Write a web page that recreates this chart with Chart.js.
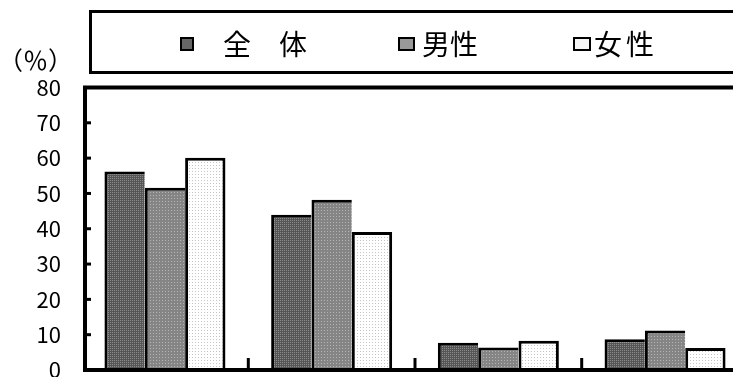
<!DOCTYPE html>
<html lang="ja">
<head>
<meta charset="utf-8">
<script src="https://cdn.jsdelivr.net/npm/chart.js@4/dist/chart.umd.min.js"></script>
<style>
  html, body { margin: 0; padding: 0; background: #fff; overflow: hidden; }
  #wrap { position: relative; width: 770px; height: 377px; }
  #barCanvas { position: absolute; left: 0; top: 0; }
  .txt { position: absolute; font-family: "Noto Sans CJK JP", sans-serif; color: #000; white-space: pre; }
  #unit { left: -2px; top: 47px; font-size: 25px; line-height: 25px; }
  #legendBox { position: absolute; left: 89px; top: 10px; width: 700px; height: 58px; border: 3px solid #000; }
  .mark { position: absolute; box-sizing: border-box; border: 2px solid #000; }
  .lbl { font-size: 28px; line-height: 28px; }
</style>
</head>
<body>
<div id="wrap">
  <canvas id="barCanvas" width="770" height="377"></canvas>
  <div class="txt" id="unit">（％）</div>
  <div id="legendBox"></div>
  <div class="mark" style="left:180px;top:37px;width:14px;height:14px;background:#666;"></div>
  <div class="txt lbl" style="left:223px;top:29px;">全　体</div>
  <div class="mark" style="left:398px;top:37px;width:17px;height:14px;background:#999;"></div>
  <div class="txt lbl" style="left:422px;top:29px;">男性</div>
  <div class="mark" style="left:573px;top:37px;width:18px;height:14px;background:#f6f6f6;"></div>
  <div class="txt lbl" style="left:594px;top:29px;letter-spacing:4px;">女性</div>
</div>
<script>
// data
var categories = ['1', '2', '3', '4'];
var seriesNames = ['全　体', '男性', '女性'];
var totalValues = [56.2, 44.0, 7.7, 8.7];
var maleValues = [51.6, 48.2, 6.4, 11.2];
var femaleValues = [60.1, 39.1, 8.3, 6.2];
var yTicks = [0, 10, 20, 30, 40, 50, 60, 70, 80];

// small dotted fills like the screen tones in the original
function makePattern(bg, dot, step) {
  var c = document.createElement('canvas');
  c.width = step; c.height = step;
  var g = c.getContext('2d');
  g.fillStyle = bg;
  g.fillRect(0, 0, step, step);
  g.fillStyle = dot;
  g.fillRect(0, 0, 1, 1);
  return g.createPattern(c, 'repeat');
}

var fills = [
  makePattern('#555555', '#8c8c8c', 2),
  makePattern('#858585', '#b4b4b4', 3),
  makePattern('#ffffff', '#c4c4c4', 3)
];

// frame, inward ticks on y and short separators on x
var framePlugin = {
  id: 'frame',
  afterDatasetsDraw: function(chart) {
    var ctx = chart.ctx;
    var a = chart.chartArea;
    var x = chart.scales.x;
    var y = chart.scales.y;
    var axisX = a.left + 3.4; // y axis sits a little inside the first category
    ctx.save();
    ctx.strokeStyle = '#000';
    ctx.lineWidth = 3;
    yTicks.forEach(function(v) {
      var py = y.getPixelForValue(v);
      ctx.beginPath();
      ctx.moveTo(axisX, py);
      ctx.lineTo(axisX + 6, py);
      ctx.stroke();
    });
    for (var i = 1; i < categories.length + 1; i++) {
      var px = x.getPixelForValue(i - 0.5);
      ctx.beginPath();
      ctx.moveTo(px, a.bottom);
      ctx.lineTo(px, a.bottom - 12);
      ctx.stroke();
    }
    ctx.lineWidth = 4;
    ctx.strokeRect(axisX, a.top, a.right - axisX, a.bottom - a.top);
    ctx.restore();
  }
};

var barBorder = { top: 3, left: 3, right: 0, bottom: 0 };

new Chart(document.getElementById('barCanvas'), {
  type: 'bar',
  data: {
    labels: categories,
    datasets: [
      { label: seriesNames[0], data: totalValues, backgroundColor: fills[0], borderColor: '#000', borderWidth: barBorder },
      { label: seriesNames[1], data: maleValues, backgroundColor: fills[1], borderColor: '#000', borderWidth: barBorder },
      { label: seriesNames[2], data: femaleValues, backgroundColor: fills[2], borderColor: '#000', borderWidth: { top: 3, left: 3, right: 3, bottom: 0 } }
    ]
  },
  options: {
    responsive: false,
    animation: false,
    layout: { padding: { top: 87.5, right: 21.6, left: 0, bottom: 7 } },
    datasets: { bar: { categoryPercentage: 0.726, barPercentage: 1.0, borderSkipped: false } },
    plugins: { legend: { display: false }, tooltip: { enabled: false } },
    scales: {
      x: {
        display: false
      },
      y: {
        min: 0,
        max: 80,
        grid: { display: false, drawTicks: true, tickLength: 20.6 },
        border: { display: false },
        ticks: {
          stepSize: 10,
          padding: 0,
          color: '#000',
          font: { family: '"Noto Sans CJK JP", sans-serif', size: 22 }
        },
        afterFit: function(s) {
          s.width = 81.6;
          s.paddingTop = 0;
          s.paddingBottom = 0;
        }
      }
    }
  },
  plugins: [framePlugin]
});
</script>
</body>
</html>
